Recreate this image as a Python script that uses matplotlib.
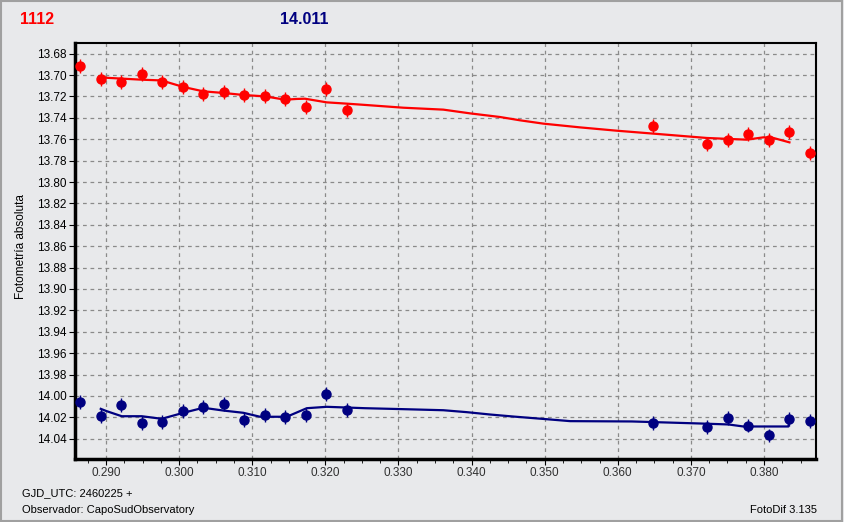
import matplotlib
matplotlib.use("Agg")
import matplotlib.pyplot as plt
from matplotlib.patches import Rectangle
from matplotlib.ticker import MultipleLocator, FormatStrFormatter

# observation times (GJD_UTC - 2460225)
jd = [0.28644, 0.28928, 0.29205, 0.29488, 0.29766, 0.30053, 0.30323,
      0.30610, 0.30884, 0.31171, 0.31453, 0.31736, 0.32006, 0.32293,
      0.36487, 0.37222, 0.37513, 0.37787, 0.38070, 0.38344, 0.38631]

# star 1112 (red)
mag_red = [13.6912, 13.7034, 13.7062, 13.6987, 13.7062, 13.7108, 13.7174,
           13.7155, 13.7183, 13.7193, 13.7221, 13.7295, 13.7127, 13.7323,
           13.7479, 13.7641, 13.7610, 13.7554, 13.7610, 13.7536, 13.7732]

# comparison (blue)
mag_blue = [14.0059, 14.0190, 14.0087, 14.0255, 14.0246, 14.0143, 14.0102,
            14.0078, 14.0227, 14.0180, 14.0199, 14.0180, 13.9984, 14.0134,
            14.0255, 14.0289, 14.0208, 14.0277, 14.0370, 14.0214, 14.0237]

err = 0.0065

# smoothed curves
fit_red_x = [0.28928, 0.29055, 0.29488, 0.29762, 0.29876, 0.30058, 0.30331,
             0.30605, 0.30878, 0.31175, 0.31449, 0.31609, 0.31722, 0.32019,
             0.32293, 0.32543, 0.33067, 0.33614, 0.33980, 0.34390, 0.34664,
             0.34982, 0.35484, 0.35986, 0.36534, 0.37218, 0.37765, 0.37992,
             0.38129, 0.38348]
fit_red_y = [13.7022, 13.7027, 13.7043, 13.7050, 13.7074, 13.7111, 13.7152,
             13.7167, 13.7186, 13.7199, 13.7230, 13.7223, 13.7221, 13.7255,
             13.7267, 13.7279, 13.7305, 13.7323, 13.7358, 13.7392, 13.7423,
             13.7454, 13.7489, 13.7520, 13.7550, 13.7588, 13.7604, 13.7582,
             13.7588, 13.7629]

fit_blue_x = [0.28928, 0.29010, 0.29215, 0.29488, 0.29762, 0.30058, 0.30331,
              0.30605, 0.30878, 0.31107, 0.31472, 0.31746, 0.32019, 0.32543,
              0.33067, 0.33614, 0.33934, 0.34253, 0.34572, 0.35029, 0.35348,
              0.36192, 0.37126, 0.37513, 0.37718, 0.38334, 0.38348]
fit_blue_y = [14.0121, 14.0143, 14.0190, 14.0190, 14.0214, 14.0158, 14.0111,
              14.0137, 14.0158, 14.0195, 14.0195, 14.0115, 14.0102, 14.0115,
              14.0124, 14.0134, 14.0152, 14.0174, 14.0193, 14.0218, 14.0236,
              14.0239, 14.0258, 14.0267, 14.0286, 14.0286, 14.0211]

RED = "#ff0000"
BLUE = "#000080"
BG = "#e8e9eb"

plt.rcParams['font.family'] = ['Liberation Sans', 'DejaVu Sans']

fig = plt.figure(figsize=(8.44, 5.22), dpi=100, facecolor=BG)
ax = fig.add_axes([0.0889, 0.1207, 0.8779, 0.7969], facecolor=BG)

ax.plot(fit_red_x, fit_red_y, color=RED, lw=1.6, zorder=3)
ax.plot(fit_blue_x, fit_blue_y, color=BLUE, lw=1.6, zorder=3)
ax.errorbar(jd, mag_red, yerr=err, fmt='o', color=RED, ms=6.5, elinewidth=1,
            capsize=0, zorder=4)
ax.errorbar(jd, mag_blue, yerr=err, fmt='o', color=BLUE, ms=6.5, elinewidth=1,
            capsize=0, zorder=4)

ax.set_xlim(0.28576, 0.38711)
ax.set_ylim(14.059, 13.670)

ax.xaxis.set_major_locator(MultipleLocator(0.01))
ax.xaxis.set_minor_locator(MultipleLocator(0.0025))
ax.xaxis.set_major_formatter(FormatStrFormatter('%.3f'))
ax.yaxis.set_major_locator(MultipleLocator(0.02))
ax.yaxis.set_major_formatter(FormatStrFormatter('%.2f'))

ax.grid(True, which='major', color='#8a8a8a', ls=(0, (3, 3)), lw=0.9)
ax.tick_params(which='both', direction='out', labelsize=8.5, colors='black')
ax.tick_params(which='major', length=4)
ax.tick_params(which='minor', length=3)
ax.tick_params(axis='x', pad=2)
ax.tick_params(axis='y', pad=2)
for t in ax.get_xticklabels():
    t.set_color('#303030')

ax.spines['left'].set_linewidth(2.5)
ax.spines['bottom'].set_linewidth(2.5)
ax.spines['top'].set_linewidth(1.5)
ax.spines['right'].set_linewidth(1.5)

ax.set_ylabel("Fotometría absoluta", fontsize=8.5)
ax.yaxis.set_label_coords(-0.0648, 0.51)

fig.text(20 / 844, 1 - 19 / 522, "1112", color=RED, fontsize=11.5,
         fontweight='bold', va='center', ha='left')
fig.text(280 / 844, 1 - 19 / 522, "14.011", color=BLUE, fontsize=11.5,
         fontweight='bold', va='center', ha='left')
fig.text(22 / 844, 1 - 493 / 522, "GJD_UTC: 2460225 +", fontsize=8,
         va='center', ha='left')
fig.text(22 / 844, 1 - 510 / 522, "Observador: CapoSudObservatory",
         fontsize=8, va='center', ha='left')
fig.text(817 / 844, 1 - 510 / 522, "FotoDif 3.135", fontsize=8,
         va='center', ha='right')

fig.patches.append(Rectangle((0.001, 0.002), 0.997, 0.996,
                             transform=fig.transFigure, fill=False,
                             edgecolor='#a0a0a0', lw=1.5))

fig.savefig("out.png", dpi=100, facecolor=BG)
